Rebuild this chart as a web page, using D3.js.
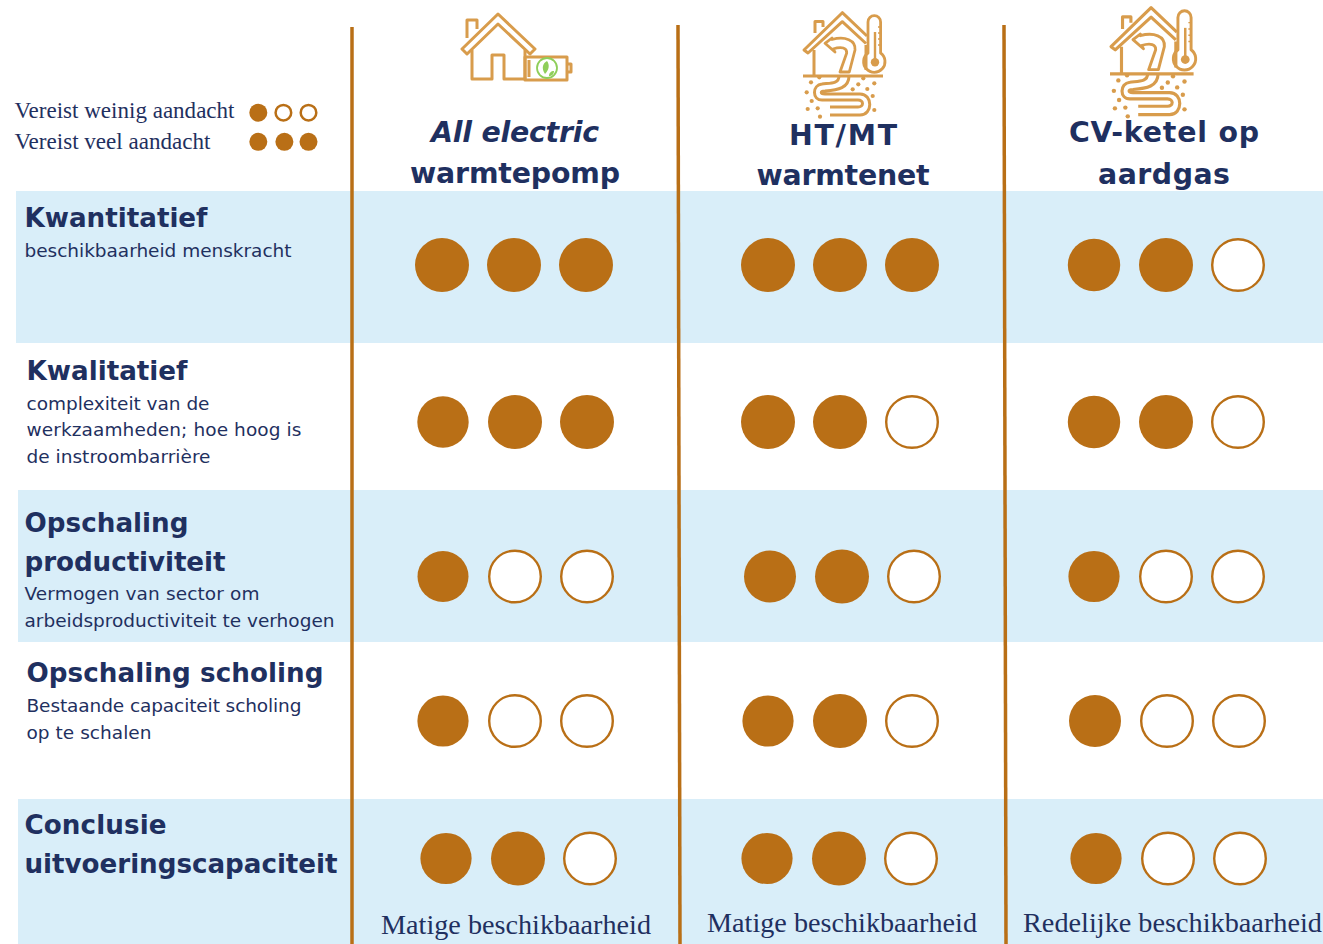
<!DOCTYPE html>
<html>
<head>
<meta charset="utf-8">
<script src="https://cdn.jsdelivr.net/npm/d3@7/dist/d3.min.js"></script>
<style>
  html, body { margin: 0; padding: 0; background: #fff; overflow: hidden; }
  svg { display: block; }
  .title { font-family: "DejaVu Sans", sans-serif; font-weight: bold; fill: #1f3060; }
  .note { font-family: "DejaVu Sans", sans-serif; fill: #1f3060; }
  .serif { font-family: "Liberation Serif", serif; fill: #1f3060; }
</style>
</head>
<body>
<div id="chart"></div>
<script>
// data
var rowKeys = ["kwant", "kwal", "prod", "schol", "concl"];
var rowTitles = [["Kwantitatief"], ["Kwalitatief"], ["Opschaling", "productiviteit"], ["Opschaling scholing"], ["Conclusie", "uitvoeringscapaciteit"]];
var rowNotes = [
  ["beschikbaarheid menskracht"],
  ["complexiteit van de", "werkzaamheden; hoe hoog is", "de instroombarrière"],
  ["Vermogen van sector om", "arbeidsproductiviteit te verhogen"],
  ["Bestaande capaciteit scholing", "op te schalen"],
  []
];
var columns = [["All electric", "warmtepomp"], ["HT/MT", "warmtenet"], ["CV-ketel op", "aardgas"]];
var scoresElectric = [3, 3, 1, 1, 2];
var scoresWarmtenet = [3, 2, 2, 2, 2];
var scoresKetel = [2, 2, 1, 1, 1];
var conclusions = ["Matige beschikbaarheid", "Matige beschikbaarheid", "Redelijke beschikbaarheid"];
var legendLabels = ["Vereist weinig aandacht", "Vereist veel aandacht"];
var legendScores = [1, 3];

// layout
var width = 1323, height = 944;
var navy = "#1f3060", brown = "#b96f16", band = "#d9eef9", iconCol = "#d89c4c";
var rowEdges = [191, 343, 490, 642, 799, 944];
var bandLeft = [16, 16, 18, 18, 18];
var rowCy = [265, 422, 576.5, 721, 858.5];
var colCx = [514, 840, 1166];
var colNudge = [[0, 1, 1, 1, 4], [0, 0, 2, 0, -1], [0, 0, 0, 1, 2]];
// the first dot of a row is a bit smaller in most cells of the source
var firstR = [[27, 25.7, 25.5, 25.6, 25.6], [27, 27, 26, 25.6, 25.6], [26.2, 26.2, 25.6, 26, 25.6]];

var svg = d3.select("#chart").append("svg")
  .attr("width", width)
  .attr("height", height);

var rowY = d3.scaleOrdinal().domain(rowKeys).range(rowCy);
var slot = d3.scalePoint().domain([0, 1, 2]).range([-72, 72]);
var legendSlot = d3.scalePoint().domain([0, 1, 2]).range([258.3, 308.5]);

// bands
svg.append("g").selectAll("rect")
  .data(rowKeys.filter(function (d, i) { return i % 2 === 0; }))
  .enter().append("rect")
  .attr("x", function (d) { return bandLeft[rowKeys.indexOf(d)]; })
  .attr("y", function (d) { return rowEdges[rowKeys.indexOf(d)]; })
  .attr("width", function (d) { return width - bandLeft[rowKeys.indexOf(d)]; })
  .attr("height", function (d) { var i = rowKeys.indexOf(d); return rowEdges[i + 1] - rowEdges[i]; })
  .attr("fill", band);

// column rules, slightly off vertical like in the source
var rules = [[352, 27, 352, 944], [678, 25, 680, 944], [1004, 25, 1006, 944]];
svg.append("g").selectAll("line")
  .data(rules)
  .enter().append("line")
  .attr("x1", function (d) { return d[0]; })
  .attr("y1", function (d) { return d[1]; })
  .attr("x2", function (d) { return d[2]; })
  .attr("y2", function (d) { return d[3]; })
  .attr("stroke", brown)
  .attr("stroke-width", 3.5);

function drawDots(g, score, cx, cy, r, r0) {
  g.selectAll("circle")
    .data([0, 1, 2])
    .enter().append("circle")
    .attr("cx", function (d) { return cx + slot(d); })
    .attr("cy", cy)
    .attr("r", function (d) {
      if (d >= score) return r - 1.2;
      return d === 0 ? r0 : r;
    })
    .attr("fill", function (d) { return d < score ? brown : "#fff"; })
    .attr("stroke", function (d) { return d < score ? "none" : brown; })
    .attr("stroke-width", 2.4);
}

// score dots
[scoresElectric, scoresWarmtenet, scoresKetel].forEach(function (scores, c) {
  scores.forEach(function (score, r) {
    drawDots(svg.append("g"), score, colCx[c] + colNudge[c][r], rowY(rowKeys[r]), 27, firstR[c][r]);
  });
});

// legend
var legendBase = [118, 149];
var legendCy = [112.7, 141.8];
var legendWidth = [220, 196];
legendLabels.forEach(function (label, i) {
  svg.append("text").attr("class", "serif")
    .attr("x", 14.5).attr("y", legendBase[i])
    .attr("font-size", 22.5)
    .attr("textLength", legendWidth[i])
    .attr("lengthAdjust", "spacingAndGlyphs")
    .text(label);
  var g = svg.append("g");
  g.selectAll("circle")
    .data([0, 1, 2])
    .enter().append("circle")
    .attr("cx", function (d) { return legendSlot(d) + (i === 1 && d === 1 ? 1 : 0); })
    .attr("cy", legendCy[i])
    .attr("r", function (d) { return d < legendScores[i] ? 9 : 7.8; })
    .attr("fill", function (d) { return d < legendScores[i] ? brown : "#fff"; })
    .attr("stroke", function (d) { return d < legendScores[i] ? "none" : brown; })
    .attr("stroke-width", 2.5);
});

// column headers
var headCx = [515, 843, 1164];
var headBase = [[142, 183], [145, 185], [142, 184]];
var headWidth = [[168, 210], [108, 173], [190, 132]];
columns.forEach(function (lines, c) {
  lines.forEach(function (line, i) {
    svg.append("text").attr("class", "title")
      .attr("x", headCx[c]).attr("y", headBase[c][i])
      .attr("text-anchor", "middle")
      .attr("font-size", 28.4)
      .attr("font-style", c === 0 && i === 0 ? "italic" : null)
      .attr("textLength", headWidth[c][i])
      .text(line);
  });
});

// row labels
var labelX = [24.5, 26.5, 24.5, 26.5, 24.5];
var titleBase = [[227], [380], [532, 571], [682], [834, 873]];
var noteBase = [[257], [410, 436, 463], [600, 627], [712, 739], []];
var titleWidth = [[183], [161], [164, 201], [297], [142, 313]];
var noteWidth = [[267], [183, 275, 184], [235, 310], [275, 125], []];
rowTitles.forEach(function (lines, r) {
  lines.forEach(function (line, i) {
    svg.append("text").attr("class", "title")
      .attr("x", labelX[r]).attr("y", titleBase[r][i])
      .attr("font-size", 26.2)
      .attr("textLength", titleWidth[r][i])
      .text(line);
  });
  rowNotes[r].forEach(function (line, i) {
    svg.append("text").attr("class", "note")
      .attr("x", labelX[r]).attr("y", noteBase[r][i])
      .attr("font-size", 18.5)
      .attr("textLength", noteWidth[r][i])
      .text(line);
  });
});

// conclusions
var conclCx = [516, 842, 1172.5];
var conclBase = [934, 932, 932];
var conclWidth = [270, 270, 299];
conclusions.forEach(function (t, c) {
  svg.append("text").attr("class", "serif")
    .attr("x", conclCx[c]).attr("y", conclBase[c])
    .attr("text-anchor", "middle")
    .attr("font-size", 27.5)
    .attr("textLength", conclWidth[c])
    .attr("lengthAdjust", "spacingAndGlyphs")
    .text(t);
});

// icons
function iconPath(g, d, w) {
  return g.append("path").attr("d", d)
    .attr("fill", "none")
    .attr("stroke", iconCol)
    .attr("stroke-width", w || 3)
    .attr("stroke-linejoin", "round");
}

function drawBatteryHouse() {
  var g = svg.append("g");
  iconPath(g, "M498 14L535 49L530 54L498 24L467 54L462 49Z");
  iconPath(g, "M467 38V20H477V29");
  iconPath(g, "M472 50V79H492V55H504V79H525V50");
  iconPath(g, "M525 57H567V80H525ZM567 64H571V72H567M529 60V77");
  g.append("circle").attr("cx", 547).attr("cy", 68).attr("r", 10)
    .attr("fill", "#fff").attr("stroke", "#8fce5a").attr("stroke-width", 1.8);
  g.append("path").attr("d", "M545 74C541 68 543 63 547 61C550 65 549 70 545 74ZM549 76C549 73 551 71 554 71C554 74 552 76 549 76Z")
    .attr("fill", "#8fce5a");
}

var soilDots = [[811, 82.3], [806.7, 92.3], [811.7, 101], [807.7, 109], [817.7, 108.3], [820, 116.7], [852.7, 89.3], [858.3, 84.3], [863.3, 78.3], [874.3, 83.3], [867.3, 89], [872.7, 96], [874.3, 110], [819.3, 77.3]];

function drawHeatHouse(dx, dy, k) {
  var g = svg.append("g")
    .attr("transform", "translate(" + dx + "," + dy + ") translate(803,13) scale(" + k + ") translate(-803,-13)");
  // roof band and chimney
  iconPath(g, "M867 36L842.3 12.7L804 50L808 53L842.3 21.7L866 43.5");
  iconPath(g, "M815 33V21.5H823V27");
  iconPath(g, "M814 50V76M866 45V70");
  iconPath(g, "M803 76H883");
  // thermometer
  iconPath(g, "M868 53V22A6.3 6.3 0 0 1 880.6 22V53A10.7 10.7 0 1 1 868 53Z", 2.8);
  g.append("circle").attr("cx", 875).attr("cy", 62.3).attr("r", 4.2).attr("fill", iconCol);
  iconPath(g, "M875 32V60", 2.4);
  iconPath(g, "M878 27H881M878 33H881M878 39H881M878 45H881", 1.4);
  // arrow and pipe through the house
  iconPath(g, "M840 72L846.7 53C847 48 842 46 833 49L835 52L825 43.3L832 38L832 39.5C845 36 856 40 855 50L849.3 72Z", 2.8);
  iconPath(g, "M839 76C839 84 830 83 822 84C812 85 812 100 822 100H858C864 100 864 107 858 107H830");
  iconPath(g, "M849 76C849 88 838 90 825 91C820 91 820 94 825 94H860C873 94 873 115 860 115H830");
  g.selectAll("circle.soil")
    .data(soilDots)
    .enter().append("circle")
    .attr("class", "soil")
    .attr("cx", function (d) { return d[0]; })
    .attr("cy", function (d) { return d[1]; })
    .attr("r", 2.1)
    .attr("fill", iconCol);
}

drawBatteryHouse();
drawHeatHouse(0, 0, 1);
drawHeatHouse(307, -5, 1.045);
</script>
</body>
</html>
